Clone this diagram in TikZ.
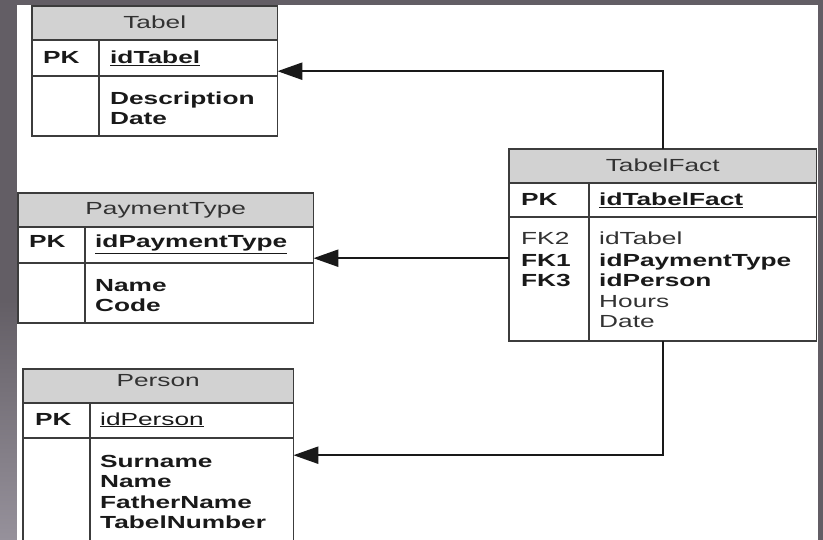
\documentclass[tikz,border=0pt]{standalone}
\usepackage{fontspec}
\setmainfont{Liberation Sans}[FakeStretch=1.5]
\usetikzlibrary{arrows.meta,calc}

\definecolor{slide}{RGB}{99,94,101}
\definecolor{slidelight}{RGB}{150,145,155}
\definecolor{hdrgray}{RGB}{210,210,210}
\definecolor{boxline}{RGB}{60,60,60}
\definecolor{inktext}{RGB}{25,25,25}
\definecolor{softtext}{RGB}{50,50,50}

\newcommand\erfont{\fontsize{17.5pt}{21pt}\selectfont}

\tikzset{
  tblshape/.style={draw=none, inner sep=0pt, anchor=north west},
  hdrfill/.style={fill=hdrgray},
  rule/.style={draw=boxline, line width=1.8pt},
  hdr/.style={anchor=base, inner sep=0pt, text=softtext, font=\erfont},
  fld/.style={anchor=base west, inner sep=0pt, text=inktext, font=\erfont},
  key/.style={fld, font=\erfont\bfseries},
  link/.style={draw=inktext, line width=2.4pt, -{Triangle[length=25pt,width=17pt]}},
}

% one entity box: name, x, y (top left), width, height, header rule y, key rule y, column rule x
\newcommand\erbox[8]{%
  \node[tblshape, minimum width=#4pt, minimum height=#5pt] (#1) at (#2,#3) {};
  \fill[hdrfill] (#1.north west) rectangle (#1.east |- 0,#6);
  \draw[rule] (#1.west |- 0,#6) -- (#1.east |- 0,#6);
  \draw[rule] (#1.west |- 0,#7) -- (#1.east |- 0,#7);
  \draw[rule] (#8,#6) -- (#1.south -| #8,0);
  \draw[rule] (#1.north west) rectangle (#1.south east);
}

\begin{document}
\begin{tikzpicture}[x=1pt, y=-1pt]
  % slide frame and white page
  \useasboundingbox (0,0) rectangle (823,540);
  \fill[slide] (0,0) rectangle (823,540);
  \shade[top color=slide, bottom color=slidelight] (0,300) rectangle (17,540);
  \fill[white] (17,5) rectangle (818,540);

  % entity boxes
  \erbox{tabel}{32}{6}{245}{130}{40}{76}{99}
  \erbox{pay}{18}{193}{295}{130}{227}{263}{85}
  \erbox{person}{23}{369}{270}{172}{403}{438}{90}
  \erbox{fact}{509}{149}{307}{192}{183}{217}{589}

  % Tabel
  \node[hdr] (tabelH) at (tabel.north |- 0,28.3) {Tabel};
  \node[key] (tabelPK) at (43,63.3) {PK};
  \node[key] (tabelId) at (110,63.3) {\underline{idTabel}};
  \node[key] (tabelA1) at (110,105) {Description};
  \node[key] (tabelA2) at (110,125) {Date};

  % PaymentType
  \node[hdr] (payH) at (pay.north |- 0,215) {PaymentType};
  \node[key] (payPK) at (29,248) {PK};
  \node[key] (payId) at (95,248) {\underline{idPaymentType}};
  \node[key] (payA1) at (95,292) {Name};
  \node[key] (payA2) at (95,312) {Code};

  % Person
  \node[hdr] (personH) at (person.north |- 0,387) {Person};
  \node[key] (personPK) at (35,425) {PK};
  \node[fld] (personId) at (100,425) {\underline{idPerson}};
  \node[key] (personA1) at (100,467) {Surname};
  \node[key] (personA2) at (100,487) {Name};
  \node[key] (personA3) at (100,508) {FatherName};
  \node[key] (personA4) at (100,528) {TabelNumber};

  % TabelFact
  \node[hdr] (factH) at (fact.north |- 0,171.7) {TabelFact};
  \node[key] (factPK) at (521,206) {PK};
  \node[key] (factId) at (599,206) {\underline{idTabelFact}};
  \node[fld, text=softtext] (factK2) at (521,245) {FK2};
  \node[fld, text=softtext] (factF1) at (599,245) {idTabel};
  \node[key] (factK1) at (521,267) {FK1};
  \node[key] (factF2) at (599,267) {idPaymentType};
  \node[key] (factK3) at (521,287) {FK3};
  \node[key] (factF3) at (599,287) {idPerson};
  \node[fld, text=softtext] (factF4) at (599,308) {Hours};
  \node[fld, text=softtext] (factF5) at (599,328) {Date};

  % foreign key links
  \draw[link] (fact.north) |- (tabel.east);
  \draw[link] (pay.east -| fact.west) -- (pay.east);
  \draw[link] (fact.south) |- (person.east);
\end{tikzpicture}
\end{document}
